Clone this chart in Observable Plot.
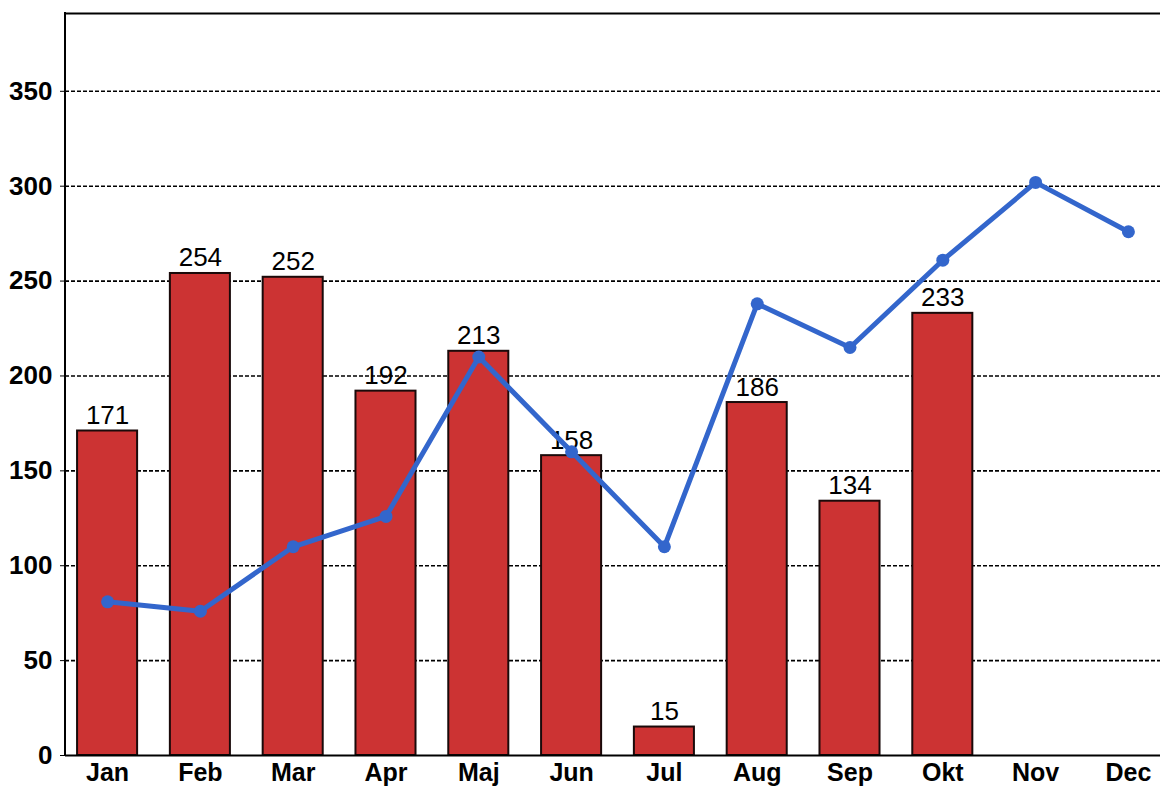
<!DOCTYPE html>
<html>
<head>
<meta charset="utf-8">
<script src="https://cdn.jsdelivr.net/npm/d3@7"></script>
<script src="https://cdn.jsdelivr.net/npm/@observablehq/plot@0.6"></script>
<style>
  html, body { margin: 0; padding: 0; background: #fff; }
  svg { display: block; }
</style>
</head>
<body>
<div id="chart"></div>
<script>
const months = ["Jan","Feb","Mar","Apr","Maj","Jun","Jul","Aug","Sep","Okt","Nov","Dec"];
const barValues = [171, 254, 252, 192, 213, 158, 15, 186, 134, 233, null, null];
const lineValues = [81, 76, 110, 126, 210, 160, 110, 238, 215, 261, 302, 276];
const yTicks = [0, 50, 100, 150, 200, 250, 300, 350];

const bars = months.map((m, i) => ({month: m, value: barValues[i]})).filter(d => d.value != null);
const line = months.map((m, i) => ({month: m, value: lineValues[i]}));

const font = "'Liberation Sans', Arial, sans-serif";

const chart = Plot.plot({
  width: 1160,
  height: 787,
  marginLeft: 65,
  marginTop: 13,
  marginBottom: 32,
  marginRight: 0,
  style: {fontFamily: font, background: "#fff"},
  x: {type: "band", domain: months, range: [65, 1170], paddingInner: 0.353, paddingOuter: 0.13, round: false, label: null},
  y: {domain: [0, 391], range: [755, 13], label: null},
  marks: [
    Plot.ruleY(yTicks.filter(d => d > 0), {stroke: "#000", strokeWidth: 1.6, strokeDasharray: "4,2"}),
    Plot.barY(bars, {x: "month", y: "value", fill: "#cc3333", stroke: "#1a0a0a", strokeWidth: 2}),
    Plot.text(bars, {x: "month", y: "value", text: d => String(d.value), dy: -7, lineAnchor: "bottom", fontSize: 26, fill: "#000"}),
    Plot.line(line, {x: "month", y: "value", stroke: "#3366cc", strokeWidth: 5}),
    Plot.dot(line, {x: "month", y: "value", r: 6.5, fill: "#3366cc"}),
    Plot.ruleY([0], {stroke: "#000", strokeWidth: 2}),
    Plot.ruleY([391], {stroke: "#000", strokeWidth: 2}),
    Plot.axisY({ticks: yTicks, tickSize: 5, tickPadding: 8, fontSize: 26, fontWeight: "bold", tickFormat: d => String(d), fill: "#000"}),
    Plot.axisX({tickSize: 0, tickPadding: 8, fontSize: 25, fontWeight: "bold", fill: "#000"})
  ]
});

// left axis line
const svg = d3.select(chart);
svg.append("line").attr("x1", 65).attr("x2", 65).attr("y1", 12).attr("y2", 756).attr("stroke", "#000").attr("stroke-width", 2);
document.getElementById("chart").appendChild(chart);
</script>
</body>
</html>
